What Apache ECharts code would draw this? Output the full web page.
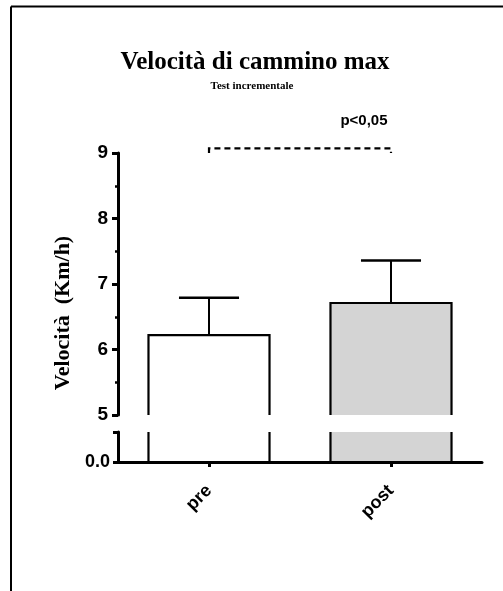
<!DOCTYPE html>
<html><head><meta charset="utf-8">
<script src="https://cdn.jsdelivr.net/npm/echarts@6/dist/echarts.min.js"></script>
<style>html,body{margin:0;padding:0;background:#fff}#c{width:503px;height:591px}</style>
</head><body><div id="c"></div>
<script>
// ---- data ----
const categories = ['pre', 'post'];
const means = [6.22, 6.71];
const errors = [0.57, 0.65];
const barFills = ['#ffffff', '#d4d4d4'];
const upperTicks = [5, 6, 7, 8, 9];
const lowerTicks = [0, 1];
const bracketLevel = 9.07;
const bracketFoot = 9.0;
const pLabel = 'p<0,05';

const chart = echarts.init(document.getElementById('c'), null, {renderer: 'canvas'});

const barData = categories.map((c, i) => [i, means[i]]);
const errData = categories.map((c, i) => [i, means[i], errors[i]]);

function barItem(params, api) {
  const i = params.dataIndex;
  const top = api.coord([api.value(0), api.value(1)]);
  const base = api.coord([api.value(0), 0]);
  const band = api.size([1, 0])[0];
  const w = band * 0.665;
  return {
    type: 'rect',
    shape: {x: top[0] - w / 2, y: top[1], width: w, height: base[1] - top[1]},
    style: {fill: barFills[i], stroke: '#000', lineWidth: 2.2}
  };
}

function errItem(params, api) {
  const x = api.value(0), m = api.value(1), e = api.value(2);
  const p0 = api.coord([x, m]);
  const p1 = api.coord([x, m + e]);
  const band = api.size([1, 0])[0];
  const cw = band * 0.33;
  return {
    type: 'group',
    children: [
      {type: 'line', shape: {x1: p0[0], y1: p0[1], x2: p1[0], y2: p1[1]}, style: {stroke: '#000', lineWidth: 2}},
      {type: 'line', shape: {x1: p1[0] - cw / 2, y1: p1[1], x2: p1[0] + cw / 2, y2: p1[1]}, style: {stroke: '#000', lineWidth: 2.5}}
    ]
  };
}

function bracketItem(params, api) {
  const a = api.coord([0, bracketLevel]);
  const b = api.coord([1, bracketLevel]);
  const af = api.coord([0, bracketFoot]);
  const bf = api.coord([1, bracketFoot]);
  return {
    type: 'group',
    children: [
      {type: 'polyline', shape: {points: [[a[0], af[1]], a, b, [b[0], bf[1]]]},
       style: {stroke: '#000', lineWidth: 2.2, lineDash: [6, 4], fill: null}},
      {type: 'text', x: b[0] - 27, y: a[1] - 28,
       style: {text: pLabel, font: 'bold 15px "Liberation Sans", Arial, sans-serif', fill: '#000', align: 'center', verticalAlign: 'middle'}}
    ]
  };
}

const axisFont = '"Liberation Sans", Arial, sans-serif';

const option = {
  backgroundColor: '#fff',
  animation: false,
  title: [
    {text: 'Velocità di cammino max', left: 250, top: 45, textAlign: 'center',
     textStyle: {fontFamily: '"Liberation Serif", "Times New Roman", serif', fontWeight: 'bold', fontSize: 25, color: '#000'}},
    {text: 'Test incrementale', left: 247, top: 76, textAlign: 'center',
     textStyle: {fontFamily: '"Liberation Serif", "Times New Roman", serif', fontWeight: 'bold', fontSize: 11, color: '#000'}}
  ],
  grid: [
    {left: 118, right: 21, top: 153, bottom: 176},
    {left: 118, right: 21, top: 432, bottom: 129}
  ],
  xAxis: [
    {type: 'category', gridIndex: 0, data: categories,
     axisLine: {show: false}, axisTick: {show: false}, axisLabel: {show: false}, splitLine: {show: false}},
    {type: 'category', gridIndex: 1, data: categories,
     axisLine: {show: true, lineStyle: {color: '#000', width: 3}},
     axisTick: {show: true, alignWithLabel: true, length: 5, lineStyle: {color: '#000', width: 3}},
     axisLabel: {rotate: 45, margin: 26, fontFamily: axisFont, fontWeight: 'bold', fontSize: 18, color: '#000'},
     splitLine: {show: false}}
  ],
  yAxis: [
    {type: 'value', gridIndex: 0, min: upperTicks[0], max: upperTicks[upperTicks.length - 1], interval: 1,
     axisLine: {show: true, lineStyle: {color: '#000', width: 3}},
     axisTick: {show: true, length: 6, lineStyle: {color: '#000', width: 3}},
     minorTick: {show: true, splitNumber: 2, length: 3, lineStyle: {color: '#000', width: 2.5}},
     axisLabel: {margin: 10, fontFamily: axisFont, fontWeight: 'bold', fontSize: 19, color: '#000'},
     splitLine: {show: false}},
    {type: 'value', gridIndex: 1, min: lowerTicks[0], max: lowerTicks[1], interval: 1,
     axisLine: {show: true, lineStyle: {color: '#000', width: 3}},
     axisTick: {show: true, length: 5, lineStyle: {color: '#000', width: 3}},
     axisLabel: {margin: 8, fontFamily: axisFont, fontWeight: 'bold', fontSize: 18, color: '#000',
       formatter: v => (v === 0 ? '0.0' : '')},
     splitLine: {show: false}}
  ],
  graphic: [
    {type: 'line', shape: {x1: 11, y1: 6.5, x2: 503, y2: 6.5}, style: {stroke: '#000', lineWidth: 2}},
    {type: 'line', shape: {x1: 11, y1: 6.5, x2: 11, y2: 591}, style: {stroke: '#000', lineWidth: 2}},
    {type: 'text', x: 63, y: 313, rotation: Math.PI / 2,
     style: {text: 'Velocità  (Km/h)', font: 'bold 22px "Liberation Serif", "Times New Roman", serif', fill: '#000', align: 'center', verticalAlign: 'middle'}}
  ],
  series: [
    {type: 'custom', xAxisIndex: 0, yAxisIndex: 0, data: barData, renderItem: barItem, clip: true, z: 2},
    {type: 'custom', xAxisIndex: 1, yAxisIndex: 1, data: barData, renderItem: barItem, clip: true, z: 2},
    {type: 'custom', xAxisIndex: 0, yAxisIndex: 0, data: errData, renderItem: errItem, clip: false, z: 3},
    {type: 'custom', xAxisIndex: 0, yAxisIndex: 0, data: [[0, bracketLevel]], renderItem: bracketItem, clip: false, z: 3}
  ]
};
chart.setOption(option);
</script>
</body></html>
